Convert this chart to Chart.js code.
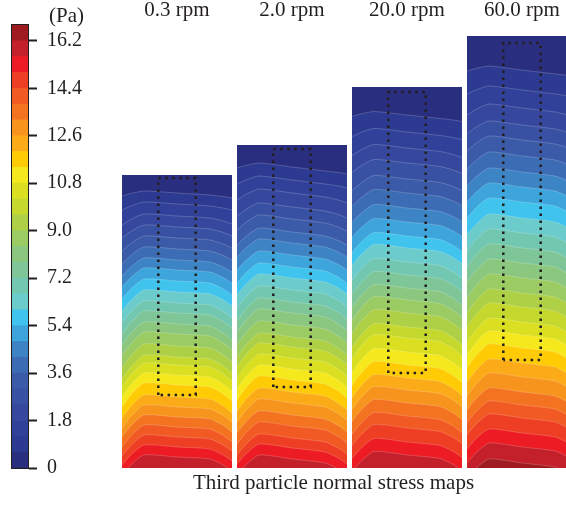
<!DOCTYPE html>
<html>
<head>
<meta charset="utf-8">
<script src="https://cdn.jsdelivr.net/npm/chart.js@4.4.0/dist/chart.umd.min.js"></script>
<style>
  html, body { margin: 0; padding: 0; background: #fff; width: 566px; height: 505px; overflow: hidden; position: relative; }
  canvas { position: absolute; top: 0; }
  .label { position: absolute; font-family: 'Liberation Serif', 'Times New Roman', serif; font-size: 21px; line-height: 21px; color: #231f20; white-space: nowrap; }
</style>
</head>
<body>
<canvas id="scale" width="88" height="505" style="left:0"></canvas>
<canvas id="map0" width="110" height="505" style="left:122px"></canvas>
<canvas id="map1" width="110" height="505" style="left:237px"></canvas>
<canvas id="map2" width="110" height="505" style="left:352px"></canvas>
<canvas id="map3" width="110" height="505" style="left:467px"></canvas>
<div class="label" style="left:49px;top:5px">(Pa)</div>
<div class="label" style="left:193px;top:472px">Third particle normal stress maps</div>
<script>
const speeds = ['0.3 rpm', '2.0 rpm', '20.0 rpm', '60.0 rpm']

// stress levels of the contour bands (Pa)
const levels = [0, 0.6, 1.2, 1.8, 2.4, 3.0, 3.6, 4.2, 4.8, 5.4, 6.0, 6.6, 7.2, 7.8, 8.4,
  9.0, 9.6, 10.2, 10.8, 11.4, 12.0, 12.6, 13.2, 13.8, 14.4, 15.0, 15.6, 16.2, 16.8]
const stressTicks = [0, 1.8, 3.6, 5.4, 7.2, 9.0, 10.8, 12.6, 14.4, 16.2]
const tickLabels = ['0', '1.8', '3.6', '5.4', '7.2', '9.0', '10.8', '12.6', '14.4', '16.2']

// bed height of each cell and the height of every 0.6 Pa contour at mid-width
const bedHeight = [293, 323, 381, 432]
const contours03 = [275, 264, 252, 241, 230, 219, 208, 198, 187, 176, 165, 155, 144,
  134, 122, 111, 103, 93, 83, 71, 61, 51, 41, 31, 21, 11]
const contours2 = [301, 288, 275, 261, 249, 236, 225, 213, 201, 190, 178, 166, 155,
  143, 131, 121, 110, 99, 88, 76, 65, 53, 42, 30, 20, 9]
const contours20 = [353, 336, 320, 305, 289, 275, 260, 246, 232, 220, 206, 193, 180,
  168, 155, 141, 130, 116, 103, 90, 78, 65, 52, 40, 26, 13]
const contours60 = [398, 378, 360, 343, 328, 312, 296, 281, 266, 250, 235, 220, 205,
  190, 175, 161, 146, 133, 120, 105, 91, 76, 63, 50, 35, 21, 5]
const contours = [contours03, contours2, contours20, contours60]

// wall effect: how far each contour bends down at the left / right wall
const leftSag = [5, 8, 11, 13, 15, 17, 18, 19, 20, 21, 22, 23, 23, 24, 24, 24, 24, 24,
  24, 23, 23, 22, 22, 21, 20, 20, 19]
const rightSag = [3, 4, 6, 7, 8, 9, 10, 11, 12, 12, 13, 13, 14, 14, 14, 14, 14, 14, 14,
  14, 13, 13, 13, 12, 12, 12, 11]
const tilt = [4, 8, 7, 8]

// sampling stations across the cell width and the wall profile at each
const stations = [0, 0.08, 0.2, 0.5, 0.8, 0.92, 1]
const leftShape = [1, 0.5, 0, 0, 0, 0, 0]
const rightShape = [0, 0, 0, 0, 0, 0.5, 1]
const tiltShape = [0.5, 0.5, 0.5, 0, -0.5, -0.5, -0.5]

// measuring window (dotted box)
const probeX = [0.33, 0.67]
const probeTop = [290, 319, 376, 425]
const probeBottom = [73, 81, 95, 108]

const palette = ['#2a2e7e', '#2d3a91', '#31419a', '#36489e', '#3951a3', '#3b5ba9',
  '#3c6cb3', '#3d84c5', '#3ea5dc', '#40c4ed', '#6ccbcb', '#72c7b1', '#7ec698',
  '#8cc77f', '#9bcb63', '#aed046', '#c4d82e', '#dae021', '#f5e81c', '#ffcb05',
  '#fbab18', '#f7941d', '#f37321', '#f15a22', '#ee3e24', '#ed1c24', '#c3202b', '#9d1b21']
const ink = '#231f20'
const serif = "'Liberation Serif', 'Times New Roman', serif"

const noPlugins = { legend: { display: false }, tooltip: { enabled: false } }

// colour scale
new Chart(document.getElementById('scale'), {
  type: 'bar',
  data: {
    labels: ['Pa'],
    datasets: palette.map((color, i) => ({
      data: [[levels[i], levels[i + 1]]],
      backgroundColor: color,
      borderWidth: 0,
      grouped: false,
      barPercentage: 1,
      categoryPercentage: 1,
    })),
  },
  options: {
    responsive: false,
    animation: false,
    layout: { padding: { left: 12, top: 25, bottom: 37, right: 0 } },
    plugins: noPlugins,
    scales: {
      x: {
        type: 'category',
        grid: { display: false },
        ticks: { display: false },
        border: { display: true, color: ink, width: 2 },
        afterFit: (s) => { s.height = 0 },
      },
      xTop: {
        type: 'category',
        position: 'top',
        grid: { display: false },
        ticks: { display: false },
        border: { display: true, color: ink, width: 2 },
        afterFit: (s) => { s.height = 0 },
      },
      y: {
        position: 'right',
        min: 0,
        max: levels[levels.length - 1],
        afterBuildTicks: (s) => { s.ticks = stressTicks.map((v) => ({ value: v })) },
        ticks: {
          callback: (v, i) => tickLabels[i],
          padding: 10,
          color: ink,
          font: { family: serif, size: 20 },
        },
        grid: { drawOnChartArea: false, tickLength: 9, tickWidth: 2, tickColor: ink },
        border: { display: true, color: ink, width: 2 },
        afterFit: (s) => { s.width = 60 },
      },
      yLeft: {
        position: 'left',
        min: 0,
        max: levels[levels.length - 1],
        grid: { display: false },
        ticks: { display: false },
        border: { display: true, color: ink, width: 2 },
        afterFit: (s) => { s.width = 0 },
      },
    },
  },
})

function contourLine(h, k, c) {
  return stations.map((x, i) => ({
    x,
    y: h + tilt[c] * tiltShape[i] - leftSag[k] * leftShape[i] - rightSag[k] * rightShape[i],
  }))
}

// one stress map per drum speed
speeds.forEach((speed, c) => {
  const datasets = [{
    data: [{ x: 0, y: bedHeight[c] }, { x: 1, y: bedHeight[c] }],
    backgroundColor: palette[0],
    borderWidth: 0,
    fill: 'start',
    order: 100,
  }]
  contours[c].forEach((h, k) => {
    datasets.push({
      data: contourLine(h, k, c),
      backgroundColor: palette[k + 1],
      borderColor: 'rgba(255,255,255,0.28)',
      borderWidth: 0.7,
      fill: 'start',
      order: 99 - k,
    })
  })
  datasets.push({
    data: [
      { x: probeX[0], y: probeBottom[c] },
      { x: probeX[0], y: probeTop[c] },
      { x: probeX[1], y: probeTop[c] },
      { x: probeX[1], y: probeBottom[c] },
      { x: probeX[0], y: probeBottom[c] },
    ],
    borderColor: ink,
    borderWidth: 2.5,
    borderDash: [2.5, 4.5],
    tension: 0,
    fill: false,
    order: -1,
  })

  new Chart(document.getElementById('map' + c), {
    type: 'line',
    data: { datasets },
    options: {
      responsive: false,
      animation: false,
      layout: { padding: { top: 0, bottom: 37, left: 0, right: 0 } },
      elements: { point: { radius: 0 }, line: { tension: 0.2 } },
      plugins: {
        ...noPlugins,
        title: {
          display: true,
          text: speed,
          color: ink,
          font: { family: serif, size: 21, weight: 'normal', lineHeight: 1 },
          padding: { top: 0, bottom: 7 },
        },
      },
      scales: {
        x: { type: 'linear', min: 0, max: 1, display: false },
        y: { min: 0, max: 440, display: false },
      },
    },
  })
})
</script>
</body>
</html>
